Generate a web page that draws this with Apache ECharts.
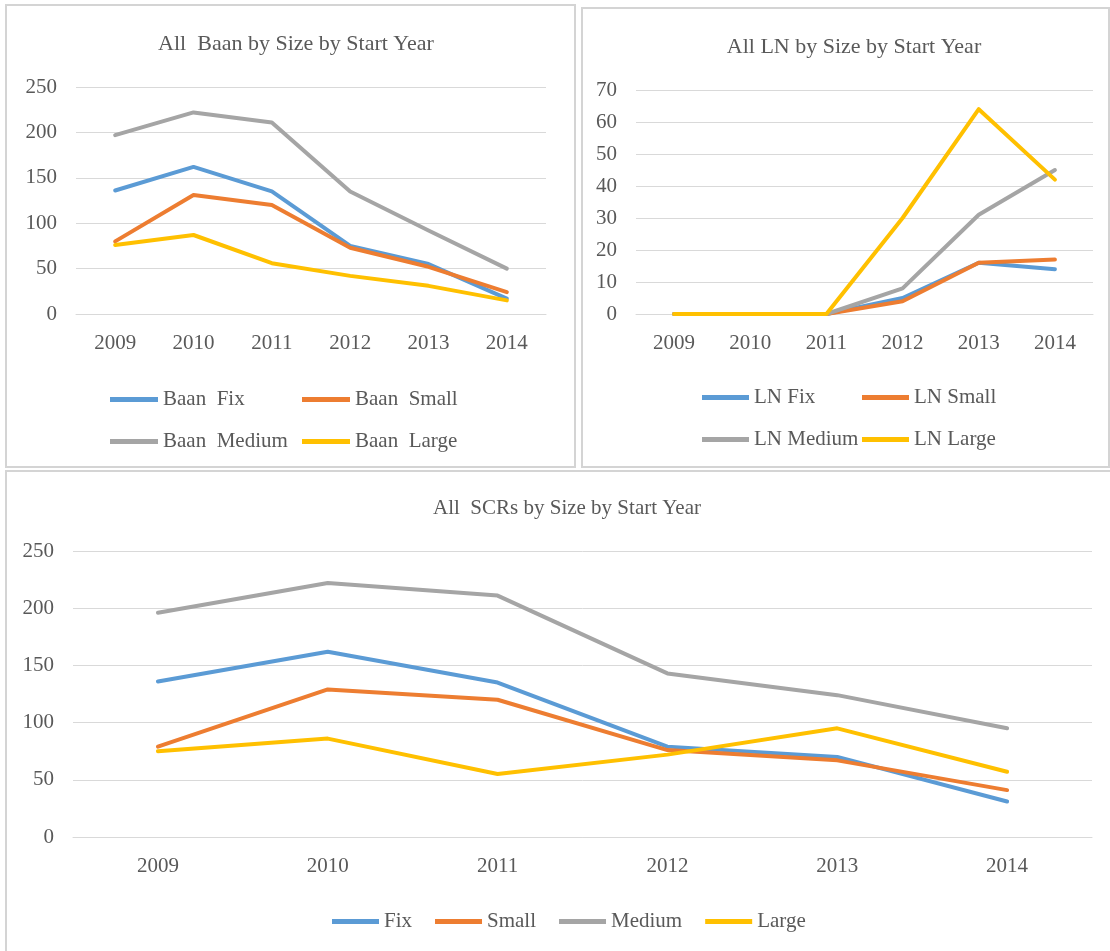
<!DOCTYPE html>
<html>
<head>
<meta charset="utf-8">
<script src="https://cdn.jsdelivr.net/npm/echarts@6/dist/echarts.min.js"></script>
<style>
  html, body { margin: 0; padding: 0; background: #fff; }
  #main { width: 1110px; height: 951px; }
</style>
</head>
<body>
<div id="main"></div>
<script>
var years = ['2009', '2010', '2011', '2012', '2013', '2014'];

var baanFix = [136, 162, 135, 75, 55, 17];
var baanSmall = [80, 131, 120, 73, 52, 24];
var baanMedium = [197, 222, 211, 135, 92, 50];
var baanLarge = [76, 87, 56, 42, 31, 15];

var lnFix = [0, 0, 0, 5, 16, 14];
var lnSmall = [0, 0, 0, 4, 16, 17];
var lnMedium = [0, 0, 0, 8, 31, 45];
var lnLarge = [0, 0, 0, 30, 64, 42];

var scrFix = [136, 162, 135, 79, 70, 31];
var scrSmall = [79, 129, 120, 76, 67, 41];
var scrMedium = [196, 222, 211, 143, 124, 95];
var scrLarge = [75, 86, 55, 72, 95, 57];

var colors = ['#5B9BD5', '#ED7D31', '#A5A5A5', '#FFC000'];
var txt = '#595959';
var grid_c = '#d9d9d9';
var font = '"Liberation Serif", "Times New Roman", serif';

var chart = echarts.init(document.getElementById('main'));

function line(name, data, idx, color) {
    return {
        name: name,
        type: 'line',
        xAxisIndex: idx,
        yAxisIndex: idx,
        data: data,
        symbol: 'none',
        color: color,
        lineStyle: { width: 4, color: color, cap: 'round', join: 'round' },
        emphasis: { disabled: true }
    };
}

function xAx(idx) {
    return {
        type: 'category',
        gridIndex: idx,
        data: years,
        axisTick: { show: false },
        axisLine: { lineStyle: { color: grid_c, width: 1 } },
        axisLabel: { color: txt, fontSize: 21, fontFamily: font, margin: 19 }
    };
}

function yAx(idx, max, interval) {
    return {
        type: 'value',
        gridIndex: idx,
        min: 0,
        max: max,
        interval: interval,
        axisLine: { show: false },
        axisTick: { show: false },
        splitLine: { lineStyle: { color: grid_c, width: 1 } },
        axisLabel: { color: txt, fontSize: 21, fontFamily: font, margin: 19 }
    };
}

function leg(name, left, top, width) {
    return {
        data: [name],
        left: left,
        top: top,
        icon: 'rect',
        itemWidth: width,
        itemHeight: 5,
        itemGap: 23,
        selectedMode: false,
        textStyle: { color: txt, fontSize: 21, fontFamily: font }
    };
}

var option = {
    animation: false,
    backgroundColor: '#fff',
    graphic: [
        { type: 'rect', shape: { x: 6, y: 5, width: 569, height: 462 }, style: { fill: 'none', stroke: '#d4d4d4', lineWidth: 2 } },
        { type: 'rect', shape: { x: 582, y: 8, width: 527, height: 459 }, style: { fill: 'none', stroke: '#d4d4d4', lineWidth: 2 } },
        { type: 'rect', shape: { x: 6, y: 471, width: 1110, height: 490 }, style: { fill: 'none', stroke: '#d4d4d4', lineWidth: 2 } }
    ],
    title: [
        { text: 'All  Baan by Size by Start Year', left: 291, top: 28, textAlign: 'center',
          textStyle: { color: txt, fontSize: 22, fontWeight: 'normal', fontFamily: font } },
        { text: 'All LN by Size by Start Year', left: 849, top: 31, textAlign: 'center',
          textStyle: { color: txt, fontSize: 22, fontWeight: 'normal', fontFamily: font } },
        { text: 'All  SCRs by Size by Start Year', left: 562, top: 493, textAlign: 'center',
          textStyle: { color: txt, fontSize: 21, fontWeight: 'normal', fontFamily: font } }
    ],
    legend: [
        leg('Baan  Fix', 105, 384, 48),
        leg('Baan  Small', 297, 384, 48),
        leg('Baan  Medium', 105, 426, 48),
        leg('Baan  Large', 297, 426, 48),
        leg('LN Fix', 697, 382, 47),
        leg('LN Small', 857, 382, 47),
        leg('LN Medium', 697, 424, 47),
        leg('LN Large', 857, 424, 47),
        {
            data: ['Fix', 'Small', 'Medium', 'Large'],
            left: 327,
            top: 906,
            icon: 'rect',
            itemWidth: 47,
            itemHeight: 5,
            itemGap: 23,
            selectedMode: false,
            textStyle: { color: txt, fontSize: 21, fontFamily: font }
        }
    ],
    grid: [
        { left: 76, right: 564, top: 87, bottom: 637 },
        { left: 636, right: 17, top: 90, bottom: 637 },
        { left: 73, right: 18, top: 551, bottom: 114 }
    ],
    xAxis: [xAx(0), xAx(1), xAx(2)],
    yAxis: [yAx(0, 250, 50), yAx(1, 70, 10), yAx(2, 250, 50)],
    series: [
        line('Baan  Fix', baanFix, 0, colors[0]),
        line('Baan  Small', baanSmall, 0, colors[1]),
        line('Baan  Medium', baanMedium, 0, colors[2]),
        line('Baan  Large', baanLarge, 0, colors[3]),
        line('LN Fix', lnFix, 1, colors[0]),
        line('LN Small', lnSmall, 1, colors[1]),
        line('LN Medium', lnMedium, 1, colors[2]),
        line('LN Large', lnLarge, 1, colors[3]),
        line('Fix', scrFix, 2, colors[0]),
        line('Small', scrSmall, 2, colors[1]),
        line('Medium', scrMedium, 2, colors[2]),
        line('Large', scrLarge, 2, colors[3])
    ]
};

chart.setOption(option);
</script>
</body>
</html>
